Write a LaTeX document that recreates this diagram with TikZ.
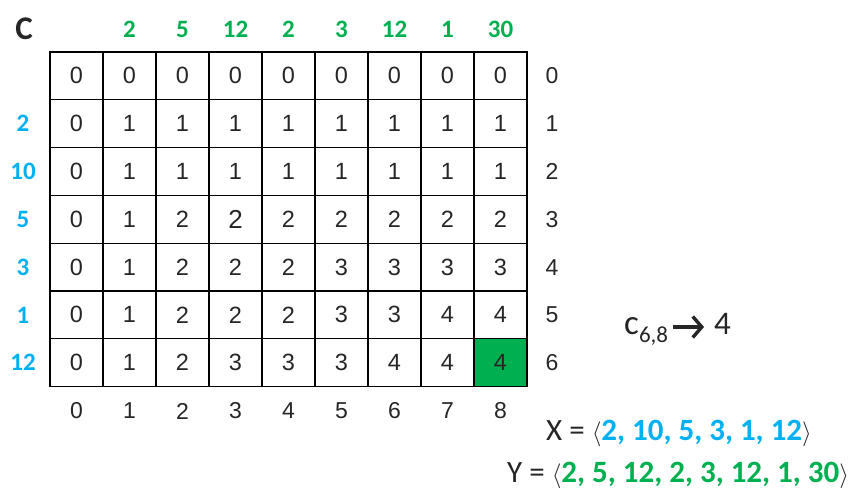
\documentclass[tikz,border=0pt]{standalone}
\usepackage{fontspec}
\usetikzlibrary{arrows.meta}
\setmainfont{Liberation Sans}
\newfontfamily\calfont{Carlito}
\definecolor{xblue}{RGB}{0,176,240}
\definecolor{ygreen}{RGB}{0,176,80}
\definecolor{ink}{RGB}{38,38,38}
\begin{document}
\begin{tikzpicture}[x=1pt,y=-1pt,
  cell/.style={draw=black, line width=1.3pt, minimum width=53pt, minimum height=47.8pt,
    inner sep=0pt, font=\fontsize{23.5}{23.5}\selectfont, text=ink},
  hit/.style={cell, fill=ygreen},
  ylab/.style={inner sep=0pt, text=ygreen, font=\calfont\bfseries\fontsize{25}{25}\selectfont},
  xlab/.style={inner sep=0pt, text=xblue, font=\calfont\bfseries\fontsize{25}{25}\selectfont},
  idx/.style={inner sep=0pt, text=ink, font=\fontsize{23}{23}\selectfont},
  eqn/.style={inner sep=0pt, anchor=base west, text=ink, font=\calfont\fontsize{31}{31}\selectfont},
  resarrow/.style={line width=3.4pt, -{Straight Barb[length=9pt, width=21pt, line width=3.4pt]}, draw=ink}]
\useasboundingbox (0,0) rectangle (867,502);
% title
\node[inner sep=0pt, text=ink, font=\calfont\bfseries\fontsize{33}{33}\selectfont] (title) at (24,29) {C};
% table
\foreach \r/\row in {0/{0,0,0,0,0,0,0,0,0},1/{0,1,1,1,1,1,1,1,1},2/{0,1,1,1,1,1,1,1,1},3/{0,1,2,,2,2,2,2,2},4/{0,1,2,2,2,3,3,3,3},5/{0,1,2,2,2,3,3,4,4},6/{0,1,2,3,3,3,4,4}}{
  \foreach \v [count=\c from 0] in \row {
    \node[cell] (c-\r-\c) at ({76.5+53*\c},{75.9+47.8*\r}) {\v};
  }
}
\node[cell, font=\fontsize{26}{26}\selectfont] (c-3-3b) at ({76.5+53*3},{75.9+47.8*3}) {2};
\node[hit] (c-6-8) at ({76.5+53*8},{75.9+47.8*6}) {4};
% column labels (Y)
\foreach \v [count=\c] in {2,5,12,2,3,12,1,30}
  \node[ylab] (y-\c) at ({76.5+53*\c},29) {\v};
% row labels (X)
\foreach \v [count=\r] in {2,10,5,3,1,12}
  \node[xlab] (x-\r) at (23,{75.9+47.8*\r}) {\v};
% right indices
\foreach \r in {0,...,6}
  \node[idx] (ri-\r) at (552,{75.9+47.8*\r}) {\r};
% bottom indices
\foreach \c in {0,...,8}
  \node[idx] (bi-\c) at ({76.5+53*\c},411) {\c};
% result
\node[inner sep=0pt, anchor=base west, text=ink] (resl) at (624,335)
  {{\calfont\fontsize{35}{35}\selectfont c\raisebox{-7.5pt}{\fontsize{23}{23}\selectfont 6,8}}};
\coordinate (arrs) at (673,327);
\coordinate (arre) at (704,327);
\draw[resarrow] (arrs) -- (arre);
\node[inner sep=0pt, anchor=base west, text=ink, font=\calfont\fontsize{33}{33}\selectfont] (resr) at (714,335) {4};
% sequences
\node[eqn] (xs) at (546,440) {X = $\langle$\textcolor{xblue}{\bfseries 2, 10, 5, 3, 1, 12}$\rangle$};
\node[eqn] (ys) at (507,482) {Y = $\langle$\textcolor{ygreen}{\bfseries 2, 5, 12, 2, 3, 12, 1, 30}$\rangle$};
\end{tikzpicture}
\end{document}
